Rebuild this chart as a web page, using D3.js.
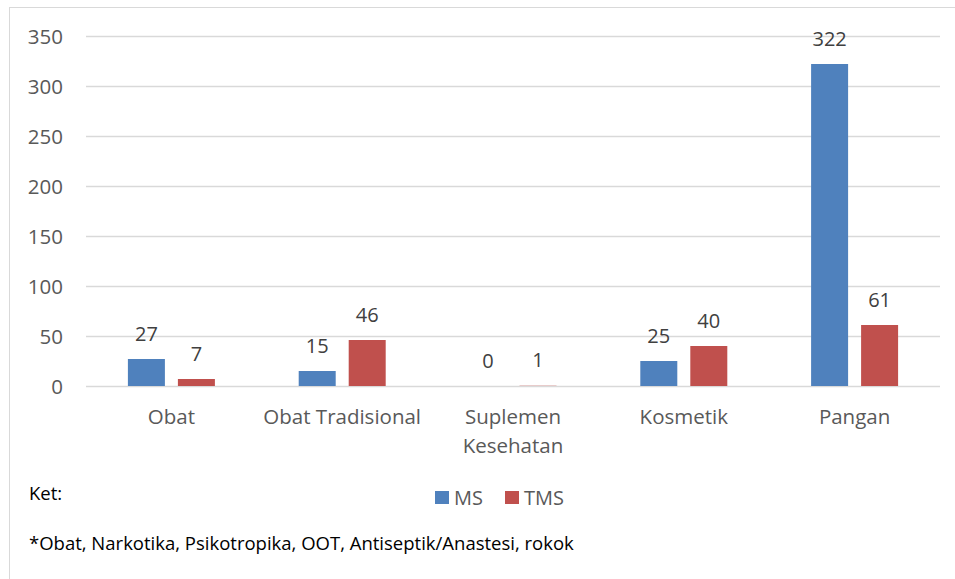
<!DOCTYPE html>
<html>
<head>
<meta charset="utf-8">
<script src="https://cdn.jsdelivr.net/npm/d3@7"></script>
<style>
  body { margin: 0; background: #fff; }
  svg { display: block; font-family: "Open Sans", "Liberation Sans", sans-serif; }
</style>
</head>
<body>
<svg id="chart" width="955" height="579"></svg>
<script>
// chart data
var categories = ["Obat", "Obat Tradisional", "Suplemen Kesehatan", "Kosmetik", "Pangan"];
var seriesNames = ["MS", "TMS"];
var msValues = [27, 15, 0, 25, 322];
var tmsValues = [7, 46, 1, 40, 61];
var yTicks = [0, 50, 100, 150, 200, 250, 300, 350];
var colors = ["#4F81BD", "#C0504D"];

var svg = d3.select("#chart"),
    width = +svg.attr("width"),
    height = +svg.attr("height");

var margin = {left: 86, right: 15, top: 36, bottom: 193};

// outer frame
svg.append("rect")
    .attr("x", 9.5).attr("y", 7.5)
    .attr("width", width + 20).attr("height", height + 20)
    .attr("fill", "none").attr("stroke", "#d9d9d9");

var x = d3.scaleBand()
    .domain(categories)
    .range([margin.left, width - margin.right]);

var x1 = d3.scaleBand()
    .domain(seriesNames)
    .range([0, 87])
    .paddingInner(0.26);

var y = d3.scaleLinear()
    .domain([0, 350])
    .range([height - margin.bottom, margin.top]);

// gridlines
svg.append("g")
  .selectAll("line")
  .data(yTicks)
  .enter().append("line")
    .attr("x1", margin.left).attr("x2", width - margin.right)
    .attr("y1", function(d) { return Math.round(y(d)) + 0.5; })
    .attr("y2", function(d) { return Math.round(y(d)) + 0.5; })
    .attr("stroke", "#d9d9d9")
    .attr("stroke-width", 1.3);

// y axis labels
var yAxis = d3.axisLeft(y).tickValues(yTicks).tickSize(0).tickPadding(0);
var gy = svg.append("g")
    .attr("transform", "translate(63,0)")
    .call(yAxis);
gy.select(".domain").remove();
gy.selectAll("text")
    .attr("fill", "#595959")
    .style("font-size", "20.5px")
    .attr("dy", "0.35em")
    .style("font-family", "'Open Sans', sans-serif");

// bars
var rows = categories.map(function(c, i) {
  return {cat: c, vals: [{s: "MS", v: msValues[i]}, {s: "TMS", v: tmsValues[i]}]};
});

var group = svg.append("g").selectAll("g")
  .data(rows)
  .enter().append("g")
    .attr("transform", function(d) {
      return "translate(" + (x(d.cat) + x.bandwidth() / 2 - 43.5) + ",0)";
    });

group.selectAll("rect")
  .data(function(d) { return d.vals; })
  .enter().append("rect")
    .attr("x", function(d) { return x1(d.s); })
    .attr("width", x1.bandwidth())
    .attr("y", function(d) { return y(d.v); })
    .attr("height", function(d) { return y(0) - y(d.v); })
    .attr("fill", function(d, i) { return colors[i]; })
    .attr("fill-opacity", function(d) { return d.v < 2 ? 0.25 : 1; });

group.selectAll("text")
  .data(function(d) { return d.vals; })
  .enter().append("text")
    .attr("x", function(d) { return x1(d.s) + x1.bandwidth() / 2; })
    .attr("y", function(d) { return y(d.v) - 18; })
    .attr("text-anchor", "middle")
    .attr("fill", "#404040")
    .style("font-size", "20px")
    .text(function(d) { return d.v; });

// category labels
var catLabels = svg.append("g").selectAll("text")
  .data(categories)
  .enter().append("text")
    .attr("x", function(d) { return x(d) + x.bandwidth() / 2; })
    .attr("y", 424)
    .attr("text-anchor", "middle")
    .attr("fill", "#595959")
    .style("font-size", "20.5px");

catLabels.each(function(d) {
  var t = d3.select(this);
  var words = d === "Suplemen Kesehatan" ? ["Suplemen", "Kesehatan"] : [d];
  words.forEach(function(w, i) {
    t.append("tspan")
      .attr("x", x(d) + x.bandwidth() / 2)
      .attr("dy", i === 0 ? 0 : 29)
      .text(w);
  });
});

// legend
var legend = svg.append("g").attr("transform", "translate(435,491)");
seriesNames.forEach(function(s, i) {
  var lx = i * 70;
  legend.append("rect")
    .attr("x", lx).attr("y", 0)
    .attr("width", 14).attr("height", 13)
    .attr("fill", colors[i]);
  legend.append("text")
    .attr("x", lx + 19).attr("y", 14)
    .attr("fill", "#595959")
    .style("font-size", "20px")
    .text(s);
});

svg.append("text")
  .attr("x", 29).attr("y", 500)
  .attr("fill", "#000")
  .style("font-size", "18.5px")
  .text("Ket:");

svg.append("text")
  .attr("x", 29).attr("y", 550)
  .attr("fill", "#000")
  .style("font-size", "18.5px")
  .text("*Obat, Narkotika, Psikotropika, OOT, Antiseptik/Anastesi, rokok");
</script>
</body>
</html>
